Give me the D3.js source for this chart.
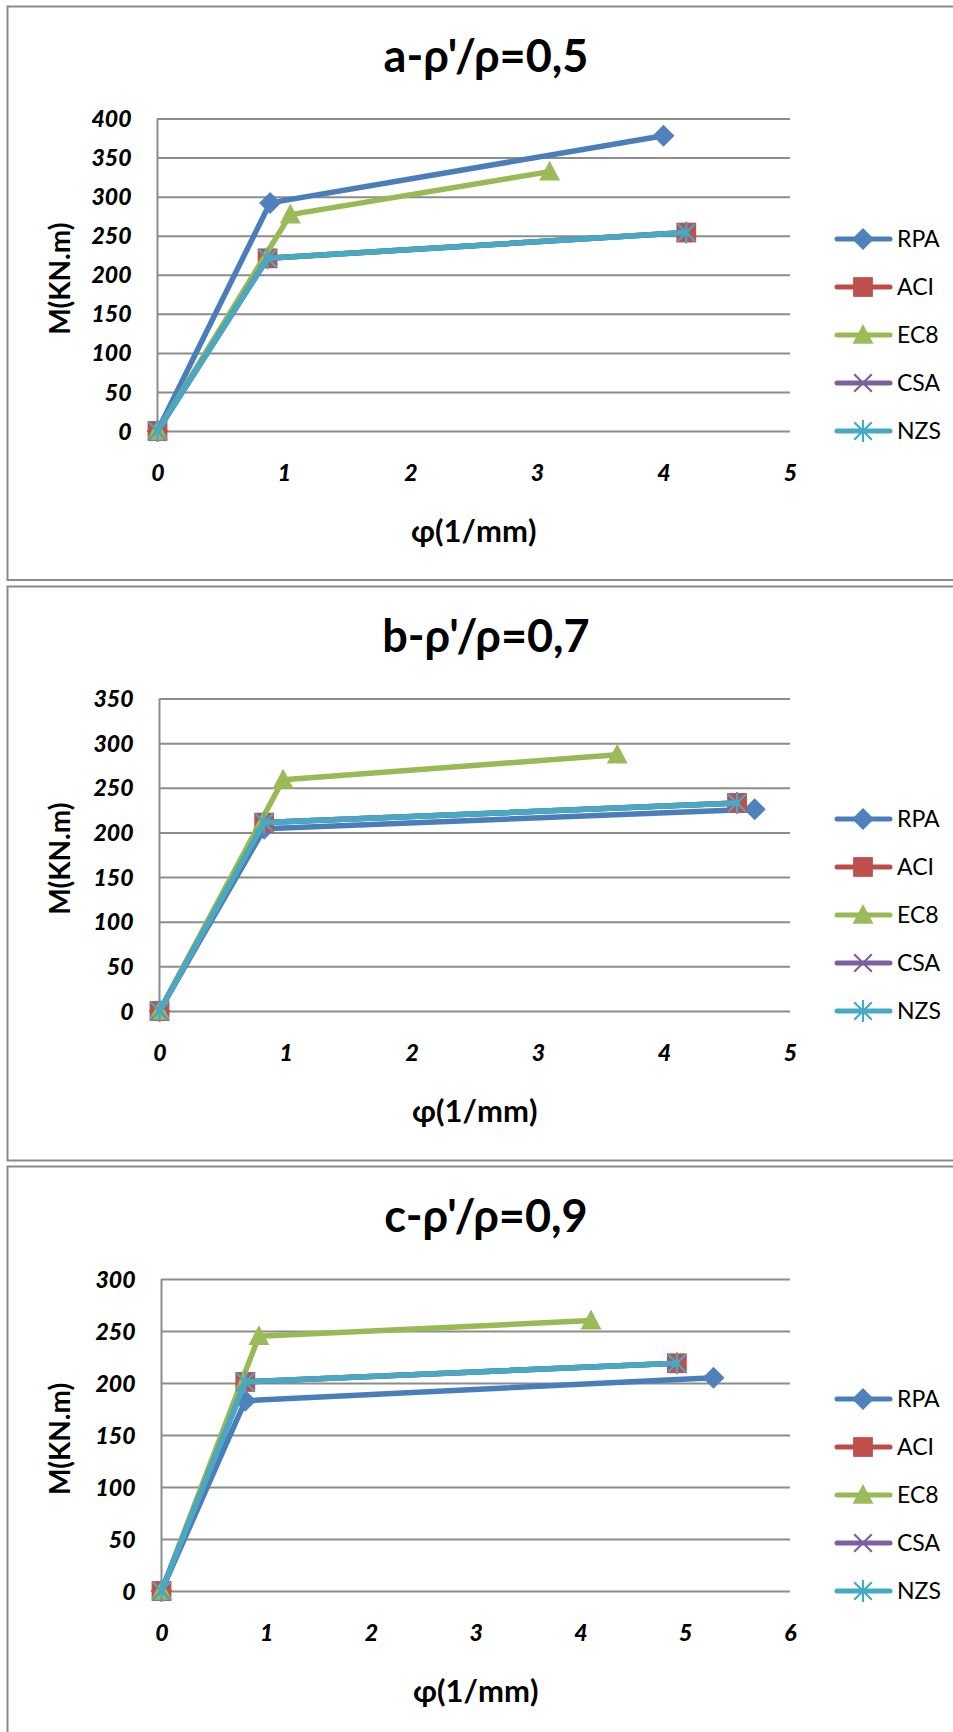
<!DOCTYPE html>
<html>
<head>
<meta charset="utf-8">
<script src="https://cdn.jsdelivr.net/npm/d3@7"></script>
<style>
  html, body { margin: 0; padding: 0; background: #fff; }
  svg { display: block; }
  text { font-family: Lato, "Open Sans", "DejaVu Sans", sans-serif; fill: #000; }
</style>
</head>
<body>
<svg id="chart" width="953" height="1732"></svg>
<script>
// Series names and colours (line colour, marker fill)
const seriesNames = ["RPA", "ACI", "EC8", "CSA", "NZS"];
const lineColors = ["#4A7EBB", "#BE4B48", "#98B954", "#7D60A0", "#46AAC5"];
const markerColors = ["#4F81BD", "#C0504D", "#9BBB59", "#8064A2", "#4BACC6"];

// Panel titles
const panelTitles = ["a-ρ'/ρ=0,5", "b-ρ'/ρ=0,7", "c-ρ'/ρ=0,9"];

// Axis ticks per panel
const yTicksA = [0, 50, 100, 150, 200, 250, 300, 350, 400];
const yTicksB = [0, 50, 100, 150, 200, 250, 300, 350];
const yTicksC = [0, 50, 100, 150, 200, 250, 300];
const xTicksA = [0, 1, 2, 3, 4, 5];
const xTicksB = [0, 1, 2, 3, 4, 5];
const xTicksC = [0, 1, 2, 3, 4, 5, 6];

// Moment–curvature points [φ, M] for ρ'/ρ = 0.5
const rpaA = [[0, 0], [0.89, 292], [4.00, 378]];
const aciA = [[0, 0], [0.87, 221], [4.18, 254]];
const ec8A = [[0, 0], [1.05, 277], [3.10, 332]];
const csaA = [[0, 0], [0.87, 221], [4.18, 254]];
const nzsA = [[0, 0], [0.87, 221], [4.18, 254]];

// ρ'/ρ = 0.7
const rpaB = [[0, 0], [0.83, 204], [4.72, 226]];
const aciB = [[0, 0], [0.83, 211], [4.58, 233]];
const ec8B = [[0, 0], [0.98, 259], [3.63, 287]];
const csaB = [[0, 0], [0.83, 211], [4.58, 233]];
const nzsB = [[0, 0], [0.83, 211], [4.58, 233]];

// ρ'/ρ = 0.9
const rpaC = [[0, 0], [0.80, 183], [5.27, 205]];
const aciC = [[0, 0], [0.80, 201], [4.92, 219]];
const ec8C = [[0, 0], [0.93, 245], [4.10, 260]];
const csaC = [[0, 0], [0.80, 201], [4.92, 219]];
const nzsC = [[0, 0], [0.80, 201], [4.92, 219]];

const xTitle = "φ(1/mm)";
const yTitle = "M(KN.m)";

// Layout of the three stacked panels
const panels = [
  { title: panelTitles[0], xTicks: xTicksA, yTicks: yTicksA, data: [rpaA, aciA, ec8A, csaA, nzsA],
    top: 6.5, bottom: 580, plot: { left: 157.5, right: 790, top: 118.5, bottom: 431 } },
  { title: panelTitles[1], xTicks: xTicksB, yTicks: yTicksB, data: [rpaB, aciB, ec8B, csaB, nzsB],
    top: 586.5, bottom: 1160.5, plot: { left: 159.5, right: 790, top: 698.5, bottom: 1011 } },
  { title: panelTitles[2], xTicks: xTicksC, yTicks: yTicksC, data: [rpaC, aciC, ec8C, csaC, nzsC],
    top: 1166.5, bottom: 1745, plot: { left: 161.5, right: 790, top: 1279, bottom: 1591 } }
];

const svg = d3.select("#chart");
const gridColor = "#8C8C8C";
const markerSize = 11; // half-size of markers

function drawMarker(g, type, x, y, fill, stroke) {
  const s = markerSize;
  if (type === 0) { // diamond
    g.append("path").attr("d", `M${x},${y - s}L${x + s},${y}L${x},${y + s}L${x - s},${y}Z`)
      .attr("fill", fill);
  } else if (type === 1) { // square
    const h = s * 0.9;
    g.append("rect").attr("x", x - h).attr("y", y - h)
      .attr("width", 2 * h).attr("height", 2 * h).attr("fill", fill);
  } else if (type === 2) { // triangle
    g.append("path").attr("d", `M${x},${y - s}L${x + s * 0.95},${y + s * 0.8}L${x - s * 0.95},${y + s * 0.8}Z`)
      .attr("fill", fill);
  } else if (type === 3) { // x cross
    const k = s * 0.8;
    g.append("path").attr("d", `M${x - k},${y - k}L${x + k},${y + k}M${x - k},${y + k}L${x + k},${y - k}`)
      .attr("stroke", stroke).attr("stroke-width", 2.2).attr("fill", "none");
  } else { // star: x cross plus vertical bar
    const k = s * 0.8;
    g.append("path").attr("d", `M${x - k},${y - k}L${x + k},${y + k}M${x - k},${y + k}L${x + k},${y - k}M${x},${y - s}L${x},${y + s}`)
      .attr("stroke", stroke).attr("stroke-width", 2.2).attr("fill", "none");
  }
}

panels.forEach(p => {
  const g = svg.append("g");

  // panel frame (open at the right, as the chart area extends off the page)
  g.append("path")
    .attr("d", `M953,${p.top}L7.5,${p.top}L7.5,${p.bottom}L953,${p.bottom}`)
    .attr("fill", "none").attr("stroke", "#8A8A8A").attr("stroke-width", 2);

  const x = d3.scaleLinear().domain([0, d3.max(p.xTicks)]).range([p.plot.left, p.plot.right]);
  const y = d3.scaleLinear().domain([0, d3.max(p.yTicks)]).range([p.plot.bottom, p.plot.top]);

  // horizontal gridlines
  const yAxis = d3.axisLeft(y).tickValues(p.yTicks).tickSize(-(p.plot.right - p.plot.left)).tickPadding(26).tickFormat(d3.format("d"));
  const ya = g.append("g").attr("transform", `translate(${p.plot.left},0)`).call(yAxis);
  ya.select(".domain").remove();
  ya.selectAll(".tick line").attr("stroke", gridColor).attr("stroke-width", 2);
  ya.selectAll(".tick text")
    .style("font-size", "23px").style("font-weight", "900").style("font-style", "italic")
    .attr("dy", "0.35em");

  // vertical axis line
  g.append("line").attr("x1", p.plot.left).attr("x2", p.plot.left)
    .attr("y1", p.plot.top).attr("y2", p.plot.bottom)
    .attr("stroke", gridColor).attr("stroke-width", 2);

  // x tick labels
  const xAxis = d3.axisBottom(x).tickValues(p.xTicks).tickSize(0).tickPadding(34).tickFormat(d3.format("d"));
  const xa = g.append("g").attr("transform", `translate(0,${p.plot.bottom})`).call(xAxis);
  xa.select(".domain").remove();
  xa.selectAll(".tick text")
    .style("font-size", "23px").style("font-weight", "900").style("font-style", "italic");

  // titles
  g.append("text").attr("x", 486).attr("y", p.top + 65)
    .attr("text-anchor", "middle").style("font-size", "45px").style("font-weight", "bold")
    .text(p.title);
  g.append("text").attr("x", (p.plot.left + p.plot.right) / 2).attr("y", p.plot.bottom + 111)
    .attr("text-anchor", "middle").style("font-size", "31px").style("font-weight", "bold")
    .text(xTitle);
  const yMid = (p.plot.top + p.plot.bottom) / 2 + 4;
  g.append("text").attr("transform", `translate(70,${yMid}) rotate(-90)`)
    .attr("text-anchor", "middle").style("font-size", "28px").style("font-weight", "bold")
    .text(yTitle);

  // series
  const line = d3.line().x(d => x(d[0])).y(d => y(d[1]));
  p.data.forEach((pts, i) => {
    const sg = g.append("g");
    sg.append("path").datum(pts).attr("d", line)
      .attr("fill", "none").attr("stroke", lineColors[i]).attr("stroke-width", 5.5)
      .attr("stroke-linejoin", "round").attr("stroke-linecap", "round");
    pts.forEach(d => drawMarker(sg, i, x(d[0]), y(d[1]), markerColors[i], lineColors[i]));
  });

  // legend
  const legStep = 48;
  const legTop = p.plot.bottom - legStep * 4;
  seriesNames.forEach((name, i) => {
    const ly = legTop + i * legStep;
    const lg = g.append("g");
    lg.append("line").attr("x1", 837).attr("x2", 890).attr("y1", ly).attr("y2", ly)
      .attr("stroke", lineColors[i]).attr("stroke-width", 5).attr("stroke-linecap", "round");
    drawMarker(lg, i, 863, ly, markerColors[i], lineColors[i]);
    lg.append("text").attr("x", 897).attr("y", ly).attr("dy", "0.35em")
      .style("font-size", "23px").text(name);
  });
});
</script>
</body>
</html>
